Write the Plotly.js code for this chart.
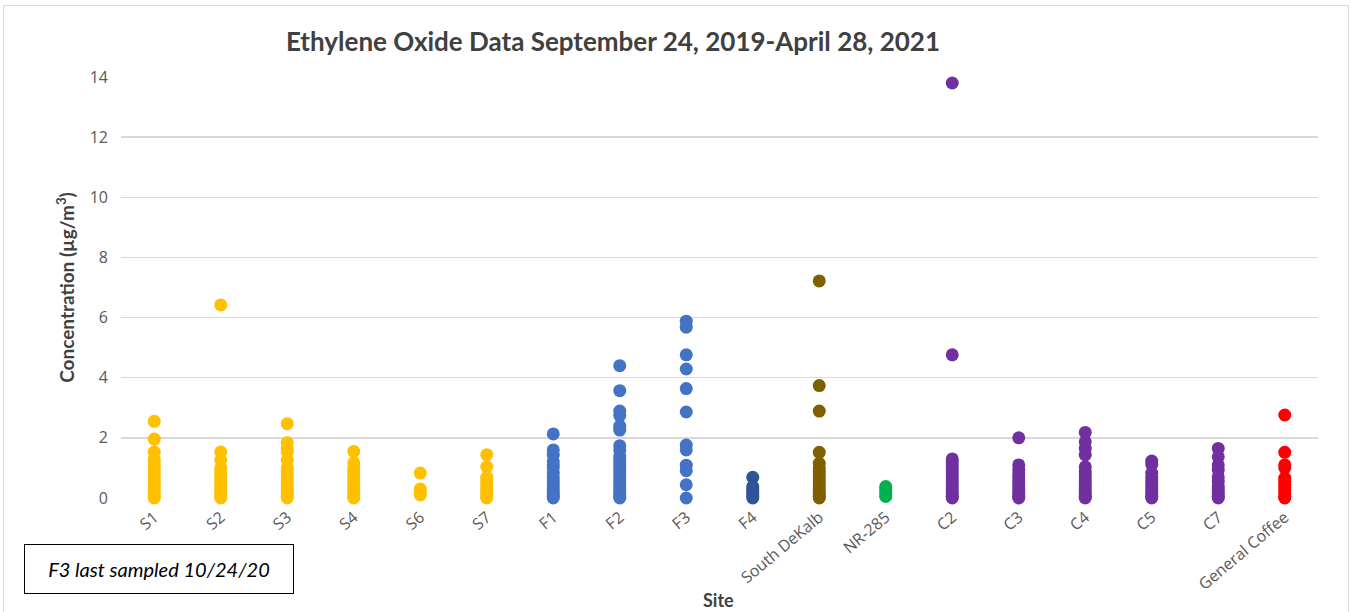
<!DOCTYPE html>
<html>
<head>
<meta charset="utf-8">
<script src="https://cdn.plot.ly/plotly-3.0.1.min.js"></script>
<style>
  body { margin: 0; background: #fff; }
  #frame { position: absolute; left: 3px; top: 5px; width: 1344px; height: 640px; border: 1px solid #d9d9d9; }
  #chart { position: absolute; left: 0; top: 0; width: 1351px; height: 612px; }
</style>
</head>
<body>
<div id="frame"></div>
<div id="chart"></div>
<script>
// Ethylene oxide concentrations (ug/m3) per monitoring site

const sites = ['S1', 'S2', 'S3', 'S4', 'S6', 'S7', 'F1', 'F2', 'F3', 'F4',
    'South DeKalb', 'NR-285', 'C2', 'C3', 'C4', 'C5', 'C7', 'General Coffee'];

const siteColors = ['#FFC000', '#FFC000', '#FFC000', '#FFC000', '#FFC000', '#FFC000',
    '#4472C4', '#4472C4', '#4472C4', '#2F5597', '#7F6000', '#00B050',
    '#7030A0', '#7030A0', '#7030A0', '#7030A0', '#7030A0', '#FF0000'];

// values, one list per site
const s1 = [2.55, 1.96, 1.53, 1.3, 1.2, 1.1, 1.0, 0.9, 0.8, 0.7, 0.6, 0.5, 0.4, 0.3, 0.2, 0.1, 0.05, 0];
const s2 = [6.42, 1.53, 1.26, 1.0, 0.9, 0.8, 0.7, 0.6, 0.5, 0.4, 0.3, 0.2, 0.1, 0.05, 0];
const s3 = [2.47, 1.84, 1.65, 1.53, 1.26, 1.0, 0.9, 0.8, 0.7, 0.6, 0.5, 0.4, 0.3, 0.2, 0.1, 0.05, 0];
const s4 = [1.55, 1.17, 1.0, 0.9, 0.8, 0.7, 0.6, 0.5, 0.4, 0.3, 0.2, 0.1, 0.05, 0];
const s6 = [0.83, 0.3, 0.2, 0.1];
const s7 = [1.44, 1.04, 0.69, 0.6, 0.5, 0.4, 0.3, 0.2, 0.1, 0.05, 0];
const f1 = [2.13, 1.6, 1.43, 1.21, 1.1, 1.0, 0.83, 0.7, 0.6, 0.5, 0.4, 0.3, 0.2, 0.1, 0.05, 0];
const f2 = [4.4, 3.57, 2.89, 2.74, 2.39, 2.26, 1.74, 1.6, 1.4, 1.3, 1.2, 1.1, 1.0, 0.9, 0.8, 0.7,
    0.6, 0.5, 0.4, 0.3, 0.2, 0.1, 0.05, 0];
const f3 = [5.88, 5.68, 4.76, 4.29, 3.64, 2.86, 1.76, 1.6, 1.09, 0.91, 0.44, 0];
const f4 = [0.69, 0.38, 0.3, 0.2, 0.1, 0.05, 0];
const southDeKalb = [7.22, 3.74, 2.89, 1.52, 1.15, 1.0, 0.9, 0.8, 0.7, 0.6, 0.5, 0.4, 0.3, 0.2, 0.1, 0.05, 0];
const nr285 = [0.38, 0.3, 0.2, 0.1, 0.05];
const c2 = [13.8, 4.76, 1.3, 1.2, 1.1, 1.0, 0.9, 0.8, 0.7, 0.6, 0.5, 0.4, 0.3, 0.2, 0.1, 0.05, 0];
const c3 = [2.0, 1.1, 0.93, 0.8, 0.7, 0.6, 0.5, 0.4, 0.3, 0.2, 0.1, 0.05, 0];
const c4 = [2.18, 1.87, 1.65, 1.43, 1.04, 0.9, 0.8, 0.7, 0.6, 0.5, 0.4, 0.3, 0.2, 0.1, 0.05, 0];
const c5 = [1.23, 1.12, 0.83, 0.7, 0.6, 0.5, 0.4, 0.3, 0.2, 0.1, 0.05, 0];
const c7 = [1.65, 1.37, 1.1, 0.93, 0.7, 0.55, 0.4, 0.3, 0.2, 0.1, 0.05, 0];
const generalCoffee = [2.76, 1.52, 1.1, 1.0, 0.66, 0.55, 0.45, 0.35, 0.25, 0.15, 0.05, 0];

const siteValues = [s1, s2, s3, s4, s6, s7, f1, f2, f3, f4, southDeKalb, nr285,
    c2, c3, c4, c5, c7, generalCoffee];

const yTicks = [0, 2, 4, 6, 8, 10, 12, 14];

let data = sites.map((name, i) => ({
    type: 'scatter',
    mode: 'markers',
    x: siteValues[i].map(() => name),
    y: siteValues[i],
    name: name,
    cliponaxis: false,
    marker: { color: siteColors[i], size: 13 },
    hoverinfo: 'x+y'
}));

// pixel helpers for the plot area (121..1318 x, 77..498 y)
const px = v => (v - 121) / 1197;
const py = v => (498 - v) / 421;

let layout = {
    width: 1351,
    height: 612,
    margin: { l: 121, r: 33, t: 77, b: 114 },
    paper_bgcolor: 'rgba(0,0,0,0)',
    plot_bgcolor: 'rgba(0,0,0,0)',
    showlegend: false,
    font: { family: 'Open Sans, sans-serif', color: '#595959' },
    title: {
        text: 'Ethylene Oxide Data September 24, 2019-April 28, 2021',
        font: { family: 'Lato, sans-serif', size: 26, color: '#404040', weight: 'bold' },
        xref: 'paper', x: px(613), xanchor: 'center',
        yref: 'container', y: 1 - 42 / 612, yanchor: 'middle'
    },
    xaxis: {
        type: 'category',
        categoryorder: 'array',
        categoryarray: sites,
        range: [-0.5, 17.5],
        tickangle: -40,
        tickfont: { size: 16, color: '#595959' },
        ticklabelstandoff: 6,
        showgrid: false,
        zeroline: false,
        showline: false,
        ticks: '',
        fixedrange: true
    },
    yaxis: {
        range: [0, 14],
        tickvals: yTicks,
        tickfont: { size: 16, color: '#595959' },
        gridcolor: '#d9d9d9',
        gridwidth: 1.5,
        zeroline: false,
        showline: false,
        ticks: '',
        ticklabelstandoff: 12,
        title: {
            text: 'Concentration (µg/m<sup>3</sup>)',
            font: { family: 'Lato, sans-serif', size: 19, color: '#404040', weight: 'bold' },
            standoff: 10
        },
        fixedrange: true
    },
    annotations: [
        {
            text: 'Site',
            xref: 'paper', yref: 'paper',
            x: px(718), y: py(600),
            xanchor: 'center', yanchor: 'middle',
            showarrow: false,
            font: { family: 'Lato, sans-serif', size: 18, color: '#404040', weight: 'bold' }
        },
        {
            text: '<i>F3 last sampled 10/24/20</i>',
            xref: 'paper', yref: 'paper',
            x: px(24), y: py(594),
            xanchor: 'left', yanchor: 'bottom',
            width: 266, height: 46,
            showarrow: false,
            bgcolor: '#ffffff',
            bordercolor: '#000000',
            borderwidth: 1,
            font: { family: 'Lato, sans-serif', size: 20, color: '#000000' }
        }
    ]
};

Plotly.newPlot('chart', data, layout, { displayModeBar: false, staticPlot: true });
</script>
</body>
</html>
